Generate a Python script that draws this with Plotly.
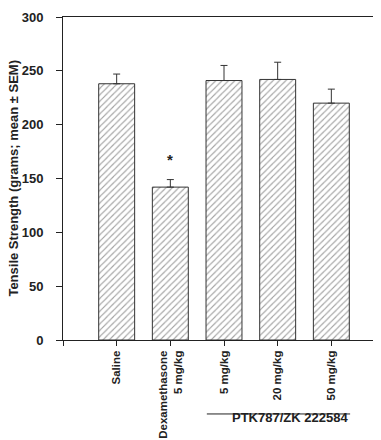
import plotly.graph_objects as go

categories = ["Saline", "Dexamethasone<br>5 mg/kg", "5 mg/kg", "20 mg/kg", "50 mg/kg"]
means = [238, 142, 241, 242, 220]
sem = [9, 7, 14, 16, 13]
y_ticks = [0, 50, 100, 150, 200, 250, 300]
y_title = "Tensile Strength (grams; mean ± SEM)"
group_label = "PTK787/ZK 222584"
sig_marker = "*"

xpos = list(range(len(categories)))
tickvals = [-1] + xpos + [len(categories)]
ticktext = [""] + categories + [""]

FONT = "Liberation Sans, Arial, Helvetica, sans-serif"
INK = "#222222"

fig = go.Figure()
fig.add_trace(go.Bar(
    x=xpos, y=means, width=0.67,
    marker=dict(color="white",
                line=dict(color="#333333", width=1),
                pattern=dict(shape="/", size=4.5, solidity=0.25, fgcolor="#444444", bgcolor="white")),
    error_y=dict(type="data", symmetric=False, array=sem, arrayminus=[0] * len(sem),
                 color="#333333", thickness=1, width=3.5),
    showlegend=False,
))

fig.update_layout(
    width=381, height=440,
    margin=dict(l=55, r=4, t=9, b=108, autoexpand=False),
    paper_bgcolor="white", plot_bgcolor="white",
    font=dict(family=FONT, size=12, color=INK, weight="bold"),
    xaxis=dict(range=[-1, 5], tickvals=tickvals, ticktext=ticktext, tickangle=-90,
               ticks="outside", ticklen=5, tickwidth=1, tickcolor=INK,
               showline=True, linecolor=INK, linewidth=1, mirror=True,
               showgrid=False, zeroline=False, ticklabelstandoff=0,
               tickfont=dict(family=FONT, size=11.5, color=INK, weight="bold")),
    yaxis=dict(range=[0, 300], tickvals=y_ticks, ticks="outside", ticklen=6, tickwidth=1,
               tickcolor=INK, showline=True, linecolor=INK, linewidth=1, mirror=True,
               showgrid=False, zeroline=False, ticklabelstandoff=10,
               tickfont=dict(family=FONT, size=13, color=INK, weight="bold")),
)

fig.add_annotation(xref="paper", yref="paper", x=-0.155, y=0.5, xanchor="center", yanchor="middle",
                   text=y_title, textangle=-90, showarrow=False,
                   font=dict(family=FONT, size=13, color=INK, weight="bold"))

fig.add_annotation(x=1, y=means[1] + sem[1], yshift=20, text=sig_marker, showarrow=False,
                   font=dict(family=FONT, size=15, color=INK, weight="bold"))

fig.add_shape(type="line", xref="x", yref="paper", x0=1.68, x1=4.35, y0=-0.229, y1=-0.229,
              line=dict(color=INK, width=1))
fig.add_annotation(xref="x", yref="paper", x=3.23, y=-0.268, text=group_label, showarrow=False,
                   font=dict(family=FONT, size=13, color=INK, weight="bold"))

fig.write_html("out.html")
